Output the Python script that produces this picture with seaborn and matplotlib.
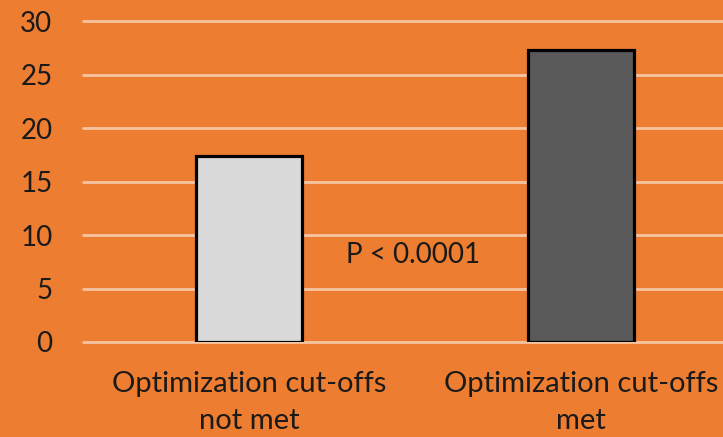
import matplotlib
matplotlib.use("Agg")
import matplotlib.pyplot as plt
import seaborn as sns
import pandas as pd

categories = ["Optimization cut-offs\nnot met", "Optimization cut-offs\nmet"]
values = [17.4, 27.3]
bar_colors = ["#D9D9D9", "#595959"]
yticks = [0, 5, 10, 15, 20, 25, 30]
annotation = "P < 0.0001"

sns.set_theme(style="white")
plt.rcParams['font.family'] = ['Lato', 'DejaVu Sans']

bg = "#ED7D31"
fig = plt.figure(figsize=(7.23, 4.37), dpi=100, facecolor=bg)
W, H = 723, 437
ax = fig.add_axes([83 / W, (H - 342) / H, (747 - 83) / W, (342 - 21) / H])
ax.set_facecolor(bg)

df = pd.DataFrame({"cat": categories, "val": values})
sns.barplot(data=df, x="cat", y="val", hue="cat", palette=bar_colors,
            width=0.32, edgecolor="black", linewidth=2.3, legend=False,
            ax=ax, zorder=3)

ax.set_ylim(0, 30)
ax.set_xlim(-0.5, 1.5)
ax.set_yticks(yticks)
for y in yticks:
    ax.axhline(y, color="white", alpha=0.55, lw=2.0, zorder=1, clip_on=False)

for s in ax.spines.values():
    s.set_visible(False)
ax.tick_params(axis="y", length=0, pad=22, labelsize=20, labelcolor="#1a1a1a")
ax.tick_params(axis="x", length=0, pad=21, labelsize=21, labelcolor="#1a1a1a")
for t in ax.get_xticklabels():
    t.set_linespacing(1.5)
ax.set_xlabel("")
ax.set_ylabel("")

ax.text(0.495, 8.1, annotation, ha="center", va="center", fontsize=20, color="#1a1a1a")

fig.savefig("out.png", dpi=100, facecolor=bg)
